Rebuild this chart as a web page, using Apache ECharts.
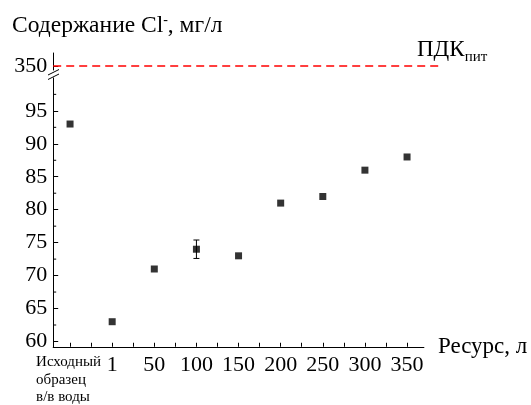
<!DOCTYPE html>
<html>
<head>
<meta charset="utf-8">
<script src="https://cdn.jsdelivr.net/npm/echarts@6/dist/echarts.min.js"></script>
<style>
  html, body { margin: 0; padding: 0; background: #fff; }
  #chart { width: 531px; height: 405px; }
</style>
</head>
<body>
<div id="chart"></div>
<script>
// Chloride content vs. filter resource
const xLabels = ['Исходный\nобразец\nв/в воды', '1', '50', '100', '150', '200', '250', '300', '350'];
const chlorideValues = [93, 63, 71, 74, 73, 81, 82, 86, 88];
const errorPointIndex = [3];
const errorHalfWidth = [1.4];
const yMajorTicks = [60, 65, 70, 75, 80, 85, 90, 95];
const yMinorTicks = [62.5, 67.5, 72.5, 77.5, 82.5, 87.5, 92.5, 97.5];
const xMajorTicks = [0, 1, 2, 3, 4, 5, 6, 7, 8];
const xAllTicks = [0, 0.5, 1, 1.5, 2, 2.5, 3, 3.5, 4, 4.5, 5, 5.5, 6, 6.5, 7, 7.5, 8];
const pdkValue = 350;

const FONT = 'Liberation Serif';
const INK = '#000';
const X_MIN = -0.4;
const X_MAX = 8.4;

const points = chlorideValues.map((v, i) => [i, v]);
const errorBars = errorPointIndex.map((idx, k) => [idx, chlorideValues[idx] - errorHalfWidth[k], chlorideValues[idx] + errorHalfWidth[k]]);
const minorTickData = yMinorTicks.map(v => [X_MIN, v]);

const chart = echarts.init(document.getElementById('chart'), null, { renderer: 'canvas' });

const option = {
  backgroundColor: '#fff',
  animation: false,
  textStyle: { fontFamily: FONT, color: INK },
  title: {
    left: 7, top: 8,
    text: 'Содержание Cl{sup|-}, мг/л',
    textStyle: {
      fontFamily: FONT, fontSize: 23.5, fontWeight: 'normal', color: INK, lineHeight: 26,
      rich: { sup: { fontFamily: FONT, fontSize: 14, color: INK, verticalAlign: 'top', lineHeight: 26 } }
    }
  },
  grid: [
    { left: 53.2, top: 53, width: 390, height: 17 },
    { left: 53.2, top: 77.9, width: 370.7, height: 270.4 }
  ],
  xAxis: [
    { gridIndex: 0, type: 'value', min: 0, max: 1, show: false },
    {
      gridIndex: 1, type: 'value', min: X_MIN, max: X_MAX,
      name: 'Ресурс, л', nameLocation: 'end', nameGap: 14,
      nameTextStyle: { fontFamily: FONT, fontSize: 23, color: INK },
      axisLine: { onZero: false, lineStyle: { color: INK, width: 1 } },
      splitLine: { show: false },
      axisTick: { inside: true, length: 4, customValues: xAllTicks, lineStyle: { color: INK } },
      axisLabel: {
        customValues: xMajorTicks, margin: 7,
        fontFamily: FONT, fontSize: 22, color: INK,
        formatter: function (v) {
          const i = Math.round(v);
          if (i === 0) {
            return xLabels[0].split('\n').map(s => '{s|' + s + '}').join('\n');
          }
          return '{n|' + xLabels[i] + '}';
        },
        rich: {
          s: { fontFamily: FONT, fontSize: 15, lineHeight: 17.5, width: 68, align: 'left', color: INK },
          n: { fontFamily: FONT, fontSize: 22, lineHeight: 22, color: INK }
        }
      }
    }
  ],
  yAxis: [
    {
      gridIndex: 0, type: 'value', min: 346, max: 363, position: 'left',
      axisLine: { show: true, onZero: false, lineStyle: { color: INK, width: 1 } },
      splitLine: { show: false },
      axisTick: { inside: true, length: 5, customValues: [pdkValue], lineStyle: { color: INK } },
      axisLabel: {
        customValues: [pdkValue], margin: 6, fontFamily: FONT, fontSize: 22, color: INK,
        formatter: v => '{n|' + v + '}',
        rich: { n: { fontFamily: FONT, fontSize: 22, color: INK } }
      }
    },
    {
      gridIndex: 1, type: 'value', min: 59.2, max: 100, position: 'left',
      axisLine: { show: true, onZero: false, lineStyle: { color: INK, width: 1 } },
      splitLine: { show: false },
      axisTick: { inside: true, length: 5, customValues: yMajorTicks, lineStyle: { color: INK } },
      axisLabel: {
        customValues: yMajorTicks, margin: 6, fontFamily: FONT, fontSize: 22, color: INK,
        formatter: v => '{n|' + v + '}',
        rich: { n: { fontFamily: FONT, fontSize: 22, color: INK } }
      }
    }
  ],
  series: [
    {
      name: 'ПДК', type: 'line', xAxisIndex: 0, yAxisIndex: 0,
      data: [[0, pdkValue], [1, pdkValue]],
      symbol: 'none',
      lineStyle: { color: '#ff0000', width: 1.3, type: [8, 5] },
      silent: true
    },
    {
      // short minor ticks along the left axis
      name: 'minorTicks', type: 'custom', xAxisIndex: 1, yAxisIndex: 1,
      data: minorTickData, silent: true, clip: false,
      renderItem: function (params, api) {
        const p = api.coord([api.value(0), api.value(1)]);
        return { type: 'line', shape: { x1: p[0], y1: p[1], x2: p[0] + 3, y2: p[1] }, style: { stroke: INK, lineWidth: 1 } };
      }
    },
    {
      name: 'Cl', type: 'scatter', xAxisIndex: 1, yAxisIndex: 1,
      data: points, symbol: 'rect', symbolSize: 7,
      itemStyle: { color: INK }
    },
    {
      name: 'err', type: 'custom', xAxisIndex: 1, yAxisIndex: 1,
      data: errorBars,
      renderItem: function (params, api) {
        const lo = api.coord([api.value(0), api.value(1)]);
        const hi = api.coord([api.value(0), api.value(2)]);
        const w = 3;
        const st = { stroke: INK, lineWidth: 1 };
        return {
          type: 'group',
          children: [
            { type: 'line', shape: { x1: lo[0], y1: lo[1], x2: hi[0], y2: hi[1] }, style: st },
            { type: 'line', shape: { x1: lo[0] - w, y1: lo[1], x2: lo[0] + w, y2: lo[1] }, style: st },
            { type: 'line', shape: { x1: hi[0] - w, y1: hi[1], x2: hi[0] + w, y2: hi[1] }, style: st }
          ]
        };
      }
    }
  ],
  graphic: [
    // axis break marks
    { type: 'line', shape: { x1: 48, y1: 75, x2: 59, y2: 69.5 }, style: { stroke: INK, lineWidth: 1 } },
    { type: 'line', shape: { x1: 48, y1: 79.5, x2: 59, y2: 74 }, style: { stroke: INK, lineWidth: 1 } },
    {
      type: 'text', left: 417, top: 35,
      style: {
        text: 'ПДК{sub|пит}',
        font: '23px "Liberation Serif"', fill: INK,
        rich: { sub: { fontFamily: FONT, fontSize: 15, fill: INK, verticalAlign: 'bottom', lineHeight: 30 } },
        lineHeight: 30
      }
    }
  ]
};

chart.setOption(option);
</script>
</body>
</html>
